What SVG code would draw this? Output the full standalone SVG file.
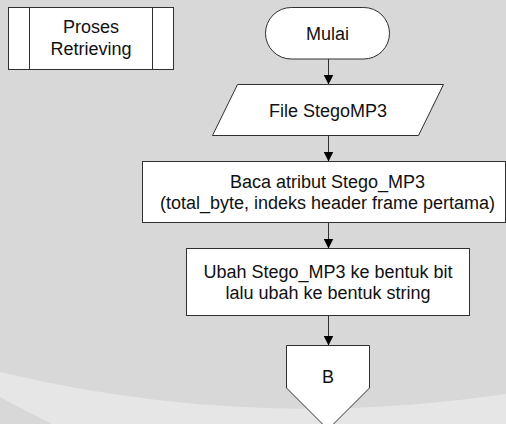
<svg xmlns="http://www.w3.org/2000/svg" width="506" height="424" viewBox="0 0 506 424">
  <style>
    .shape { fill: #ffffff; stroke: #303030; stroke-width: 1; }
    .edge { fill: none; stroke: #303030; stroke-width: 1; }
    .label { font-family: "Liberation Sans", Arial, sans-serif; font-size: 18px; fill: #111111; text-anchor: middle; }
  </style>
  <defs>
    <marker id="arrow" markerUnits="userSpaceOnUse" markerWidth="10" markerHeight="10" viewBox="0 0 10 10" refX="10" refY="5" orient="auto">
      <path d="M0,0 L10,5 L0,10 Z" fill="#000000"/>
    </marker>
  </defs>

  <!-- page background -->
  <rect x="0" y="0" width="506" height="424" fill="#d8d8d8"/>
  <path d="M0,372 Q250,432 506,394 L506,424 L52,424 Q20,408 0,397 Z" fill="#e6e6e6"/>

  <!-- title block -->
  <g id="title">
    <rect class="shape" x="8.5" y="7.5" width="165" height="62"/>
    <line class="edge" x1="29.5" y1="7.5" x2="29.5" y2="69.5"/>
    <line class="edge" x1="152.5" y1="7.5" x2="152.5" y2="69.5"/>
    <text class="label" x="91" y="33">Proses</text>
    <text class="label" x="91" y="55">Retrieving</text>
  </g>

  <!-- connectors -->
  <g id="connectors">
    <line class="edge" x1="328.5" y1="59" x2="328.5" y2="84.5" marker-end="url(#arrow)"/>
    <line class="edge" x1="328.5" y1="136" x2="328.5" y2="161.5" marker-end="url(#arrow)"/>
    <line class="edge" x1="328.5" y1="222.5" x2="328.5" y2="248.5" marker-end="url(#arrow)"/>
    <line class="edge" x1="328.5" y1="315.5" x2="328.5" y2="345.5" marker-end="url(#arrow)"/>
  </g>

  <g id="start">
    <rect class="shape" x="265.5" y="7.5" width="124" height="51.5" rx="25.75" ry="25.75"/>
    <text class="label" x="327.5" y="39.5">Mulai</text>
  </g>

  <g id="input-file">
    <polygon class="shape" points="237.5,84.5 443.5,84.5 418.5,135.5 212.5,135.5"/>
    <text class="label" x="328" y="117">File StegoMP3</text>
  </g>

  <g id="read-attributes">
    <rect class="shape" x="142.5" y="161.5" width="363" height="61"/>
    <text class="label" x="327.5" y="187.5">Baca atribut Stego_MP3</text>
    <text class="label" x="327.5" y="208.5">(total_byte, indeks header frame pertama)</text>
  </g>

  <g id="convert">
    <rect class="shape" x="186.5" y="248.5" width="283" height="67"/>
    <text class="label" x="328" y="277.5">Ubah Stego_MP3 ke bentuk bit</text>
    <text class="label" x="328" y="299">lalu ubah ke bentuk string</text>
  </g>

  <g id="offpage-b">
    <polygon class="shape" points="286.5,345.5 369.5,345.5 369.5,388 328,429.5 286.5,388"/>
    <text class="label" x="328" y="382.5">B</text>
  </g>
</svg>
